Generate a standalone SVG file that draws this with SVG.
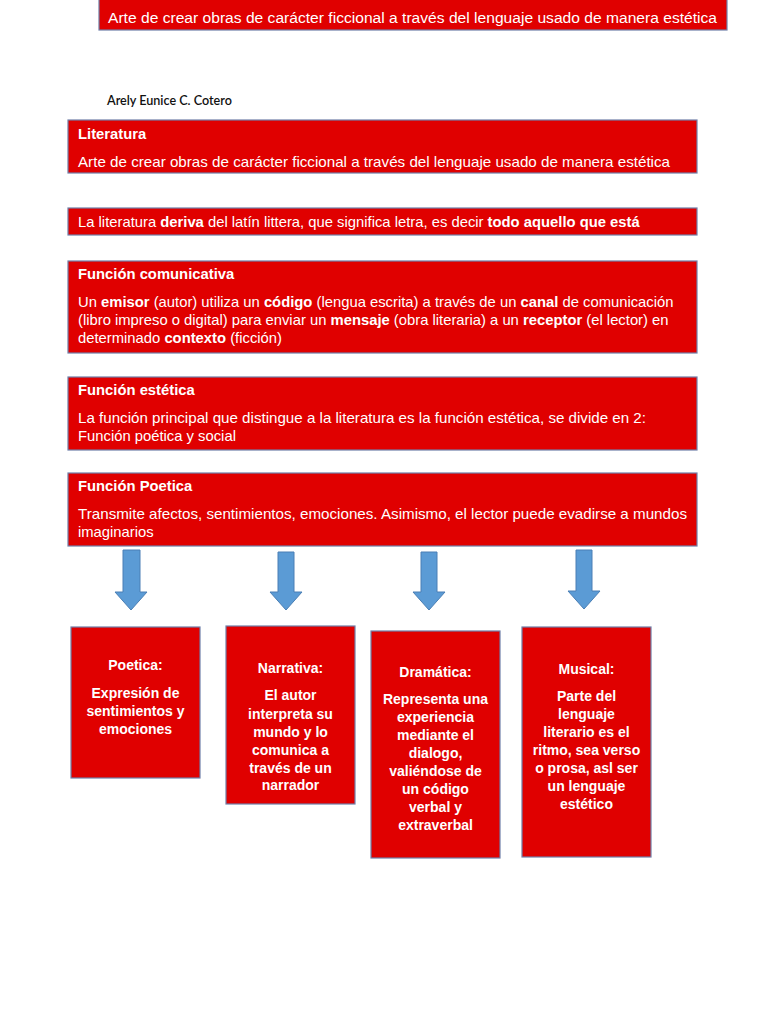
<svg xmlns="http://www.w3.org/2000/svg" width="768" height="1024" viewBox="0 0 768 1024">
<style>
.box{fill:#E00000;stroke:#6F7FA8;stroke-width:1.2}
.t{font-family:"Liberation Sans",Arial,sans-serif;font-size:14.8px;fill:#fff}
.s{font-size:14px}
.b{font-weight:bold}
.c{text-anchor:middle;font-weight:bold}
.arrow{fill:#5B9BD5;stroke:#4A7FB5;stroke-width:1}
</style>
<rect width="768" height="1024" fill="#fff"/>
<g id="top">
<rect class="box" x="99" y="-1" width="628" height="31"/>
<text class="t" x="108" y="23" style="font-size:15.5px" textLength="609" lengthAdjust="spacingAndGlyphs">Arte de crear obras de carácter ficcional a través del lenguaje usado de manera estética</text>
</g>
<text x="107" y="105" font-family="Lato,'Open Sans',sans-serif" font-size="12.6" font-weight="600" fill="#111">Arely Eunice C. Cotero</text>
<g id="literatura">
<rect class="box" x="68" y="120" width="629" height="53"/>
<text class="t b" x="78" y="139">Literatura</text>
<text class="t" x="78" y="167" textLength="592" lengthAdjust="spacingAndGlyphs">Arte de crear obras de carácter ficcional a través del lenguaje usado de manera estética</text>
</g>
<g id="deriva">
<rect class="box" x="68" y="208" width="629" height="27"/>
<text class="t" x="78" y="227">La literatura <tspan class="b">deriva</tspan> del latín littera, que significa letra, es decir <tspan class="b">todo aquello que está</tspan></text>
</g>
<g id="comunicativa">
<rect class="box" x="68" y="261" width="629" height="92"/>
<text class="t b" x="78" y="279">Función comunicativa</text>
<text class="t" x="78" y="307">Un <tspan class="b">emisor</tspan> (autor) utiliza un <tspan class="b">código</tspan> (lengua escrita) a través de un <tspan class="b">canal</tspan> de comunicación</text>
<text class="t" x="78" y="325">(libro impreso o digital) para enviar un <tspan class="b">mensaje</tspan> (obra literaria) a un <tspan class="b">receptor</tspan> (el lector) en</text>
<text class="t" x="78" y="343">determinado <tspan class="b">contexto</tspan> (ficción)</text>
</g>
<g id="estetica">
<rect class="box" x="68" y="377" width="629" height="73"/>
<text class="t b" x="78" y="395">Función estética</text>
<text class="t" x="78" y="423" textLength="568" lengthAdjust="spacingAndGlyphs">La función principal que distingue a la literatura es la función estética, se divide en 2:</text>
<text class="t" x="78" y="441">Función poética y social</text>
</g>
<g id="poetica-fn">
<rect class="box" x="68" y="473" width="629" height="73"/>
<text class="t b" x="78" y="491">Función Poetica</text>
<text class="t" x="78" y="519" textLength="609" lengthAdjust="spacingAndGlyphs">Transmite afectos, sentimientos, emociones. Asimismo, el lector puede evadirse a mundos</text>
<text class="t" x="78" y="537">imaginarios</text>
</g>
<g id="connectors">
<path class="arrow" d="M123,550 H140 V592 H147 L131,610 L115,592 H123 Z"/>
<path class="arrow" d="M278,552 H294 V592 H302 L286,610 L270,592 H278 Z"/>
<path class="arrow" d="M421,552 H437 V592 H445 L429,610 L413,592 H421 Z"/>
<path class="arrow" d="M576,550 H592 V591 H600 L584,609 L568,591 H576 Z"/>
</g>
<g id="poetica">
<rect class="box" x="71" y="627" width="129" height="151"/>
<text class="t s c" x="135.5" y="670">Poetica:</text>
<text class="t s c" x="135.5" y="698">Expresión de</text>
<text class="t s c" x="135.5" y="716">sentimientos y</text>
<text class="t s c" x="135.5" y="734">emociones</text>
</g>
<g id="narrativa">
<rect class="box" x="226" y="626" width="129" height="178"/>
<text class="t s c" x="290.5" y="673">Narrativa:</text>
<text class="t s c" x="290.5" y="700">El autor</text>
<text class="t s c" x="290.5" y="719">interpreta su</text>
<text class="t s c" x="290.5" y="737">mundo y lo</text>
<text class="t s c" x="290.5" y="755">comunica a</text>
<text class="t s c" x="290.5" y="773">través de un</text>
<text class="t s c" x="290.5" y="790">narrador</text>
</g>
<g id="dramatica">
<rect class="box" x="371" y="631" width="129" height="227"/>
<text class="t s c" x="435.5" y="677">Dramática:</text>
<text class="t s c" x="435.5" y="704">Representa una</text>
<text class="t s c" x="435.5" y="722">experiencia</text>
<text class="t s c" x="435.5" y="740">mediante el</text>
<text class="t s c" x="435.5" y="758">dialogo,</text>
<text class="t s c" x="435.5" y="776">valiéndose de</text>
<text class="t s c" x="435.5" y="794">un código</text>
<text class="t s c" x="435.5" y="812">verbal  y</text>
<text class="t s c" x="435.5" y="830">extraverbal</text>
</g>
<g id="musical">
<rect class="box" x="522" y="627" width="129" height="230"/>
<text class="t s c" x="586.5" y="674">Musical:</text>
<text class="t s c" x="586.5" y="701">Parte del</text>
<text class="t s c" x="586.5" y="719">lenguaje</text>
<text class="t s c" x="586.5" y="737">literario es el</text>
<text class="t s c" x="586.5" y="755">ritmo, sea verso</text>
<text class="t s c" x="586.5" y="773">o prosa, asl ser</text>
<text class="t s c" x="586.5" y="791">un lenguaje</text>
<text class="t s c" x="586.5" y="809">estético</text>
</g>
</svg>
